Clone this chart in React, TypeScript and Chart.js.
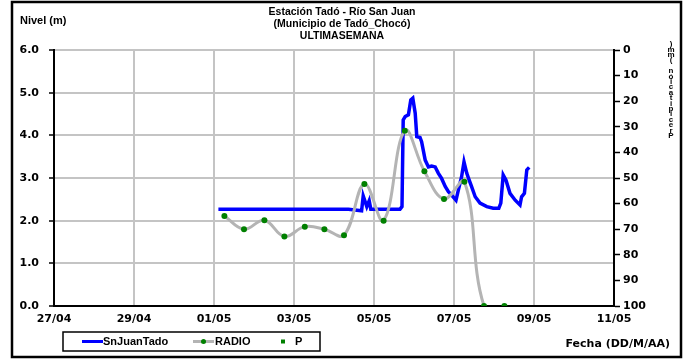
import React, { useEffect, useRef } from 'react';
import { Chart, registerables } from 'chart.js';

Chart.register(...registerables);

// x values are days since 27/04 00:00
const xTickLabels = ['27/04', '29/04', '01/05', '03/05', '05/05', '07/05', '09/05', '11/05'];

const snJuanDays = [4.11, 7.36, 7.69, 7.73, 7.82, 7.88, 7.92, 7.97, 8.65, 8.70, 8.73, 8.78, 8.86, 8.92, 8.97, 9.03, 9.07, 9.15, 9.19, 9.28, 9.36, 9.44, 9.53, 9.61, 9.69, 9.78, 9.86, 9.94, 10.05, 10.11, 10.19, 10.25, 10.32, 10.38, 10.44, 10.53, 10.65, 10.82, 10.98, 11.12, 11.17, 11.23, 11.30, 11.40, 11.53, 11.65, 11.69, 11.76, 11.82, 11.88];
const snJuanLevels = [2.27, 2.27, 2.23, 2.58, 2.33, 2.47, 2.27, 2.27, 2.27, 2.33, 4.36, 4.44, 4.48, 4.83, 4.87, 4.52, 3.97, 3.95, 3.85, 3.42, 3.26, 3.28, 3.26, 3.11, 2.99, 2.80, 2.68, 2.60, 2.48, 2.72, 3.03, 3.38, 3.11, 2.95, 2.80, 2.56, 2.41, 2.33, 2.29, 2.29, 2.41, 3.07, 2.95, 2.64, 2.48, 2.37, 2.56, 2.64, 3.19, 3.25];

const radioDays = [4.26, 4.75, 5.26, 5.76, 6.27, 6.76, 7.25, 7.76, 8.24, 8.77, 9.26, 9.75, 10.26, 10.75, 11.26];
const radioLevels = [2.11, 1.80, 2.01, 1.63, 1.86, 1.80, 1.66, 2.86, 2.00, 4.11, 3.16, 2.51, 2.91, 0, 0];

const pDays: number[] = [];
const pValues: number[] = [];

const titleLines = ['Estación Tadó - Río San Juan', '(Municipio de Tadó_Chocó)', 'ULTIMASEMANA'];
const rightTitle = 'Precipitación (mm)';

const TICK_FONT = { family: '"DejaVu Sans", sans-serif', size: 11, weight: 'bold' as const };

const decorPlugin = {
  id: 'decor',
  afterDraw(chart: any) {
    const ctx = chart.ctx as CanvasRenderingContext2D;
    const area = chart.chartArea;
    ctx.save();
    // outer frame
    ctx.strokeStyle = '#000';
    ctx.lineWidth = 2.5;
    ctx.strokeRect(12, 2, 669, 355);

    // titles
    ctx.fillStyle = '#000';
    ctx.textAlign = 'center';
    ctx.textBaseline = 'middle';
    ctx.font = 'bold 10.5px "Liberation Sans", Arial, sans-serif';
    const cx = (area.left + area.right) / 2 + 8;
    titleLines.forEach((t, i) => ctx.fillText(t, cx, 12 + i * 12));

    ctx.textAlign = 'left';
    ctx.font = 'bold 11px "Liberation Sans", Arial, sans-serif';
    ctx.fillText('Nivel (m)', 20, 21);

    // x-axis caption
    ctx.font = 'bold 11px "DejaVu Sans", sans-serif';
    ctx.textAlign = 'right';
    ctx.fillText('Fecha (DD/M/AA)', 670, 344);

    // clipped right-axis title (stacked glyphs)
    ctx.font = 'bold 8px "Liberation Sans", Arial, sans-serif';
    ctx.textAlign = 'center';
    const chars = rightTitle.split('').reverse();
    chars.forEach((c, i) => ctx.fillText(c, 671, 44 + i * 5.4));

    // legend box
    ctx.lineWidth = 1.5;
    ctx.strokeRect(63, 332, 257, 19);
    const ly = 341.5;
    ctx.lineCap = 'butt';
    ctx.strokeStyle = '#0000ff';
    ctx.lineWidth = 3;
    ctx.beginPath(); ctx.moveTo(82, ly); ctx.lineTo(103, ly); ctx.stroke();
    ctx.strokeStyle = '#b4b4b4';
    ctx.beginPath(); ctx.moveTo(193, ly); ctx.lineTo(214, ly); ctx.stroke();
    ctx.fillStyle = '#008000';
    ctx.beginPath(); ctx.arc(203.5, ly, 2.5, 0, Math.PI * 2); ctx.fill();
    ctx.fillRect(281, ly - 2, 4, 4);
    ctx.fillStyle = '#000';
    ctx.textAlign = 'left';
    ctx.font = 'bold 11px "Liberation Sans", Arial, sans-serif';
    ctx.fillText('SnJuanTado', 103, ly);
    ctx.fillText('RADIO', 215, ly);
    ctx.fillText('P', 295, ly);
    ctx.restore();
  },
};

export default function App() {
  const ref = useRef<HTMLCanvasElement>(null);
  useEffect(() => {
    document.body.style.margin = '0';
    const canvas = ref.current!;
    const chart = new Chart(canvas, {
      type: 'line',
      data: {
        datasets: [
          {
            label: 'RADIO',
            data: radioDays.map((d, i) => ({ x: d, y: radioLevels[i] })),
            borderColor: '#b4b4b4',
            borderWidth: 3,
            tension: 0.4,
            pointRadius: 3,
            pointBorderWidth: 0,
            pointBackgroundColor: '#008000',
            yAxisID: 'y',
            order: 0,
            segment: {
              borderColor: (c: any) => (c.p0DataIndex >= 13 ? 'rgba(0,0,0,0)' : undefined),
            },
          },
          {
            label: 'SnJuanTado',
            data: snJuanDays.map((d, i) => ({ x: d, y: snJuanLevels[i] })),
            borderColor: '#0000ff',
            borderWidth: 3.5,
            tension: 0,
            pointRadius: 0,
            yAxisID: 'y',
            order: 1,
          },
          {
            label: 'P',
            data: pDays.map((d, i) => ({ x: d, y: pValues[i] })),
            showLine: false,
            pointStyle: 'rect',
            pointRadius: 2,
            pointBackgroundColor: '#008000',
            yAxisID: 'y2',
            order: 2,
          },
        ],
      },
      options: {
        animation: false,
        responsive: false,
        maintainAspectRatio: false,
        layout: { padding: { top: 50, left: 0, right: 0, bottom: 0 } },
        plugins: { legend: { display: false }, tooltip: { enabled: false }, title: { display: false } },
        scales: {
          x: {
            type: 'linear',
            min: 0,
            max: 14,
            afterFit: (s: any) => { s.height = 54; },
            ticks: {
              stepSize: 2,
              padding: 7,
              color: '#000',
              font: TICK_FONT,
              maxRotation: 0,
              callback: (v: any) => xTickLabels[Math.round(Number(v) / 2)] ?? '',
            },
            grid: {
              drawTicks: false,
              lineWidth: 2,
              color: (c: any) => (c.tick && (c.tick.value === 0 || c.tick.value === 14) ? 'rgba(0,0,0,0)' : '#c4c4c4'),
            },
            border: { display: true, color: '#000', width: 2 },
          },
          y: {
            position: 'left',
            min: 0,
            max: 6,
            afterFit: (s: any) => { s.width = 54; },
            ticks: {
              stepSize: 1,
              padding: 10,
              color: '#000',
              font: TICK_FONT,
              callback: (v: any) => Number(v).toFixed(1),
            },
            grid: {
              lineWidth: 2,
              tickLength: 5,
              tickColor: '#000',
              tickWidth: 1.5,
              color: (c: any) => (c.tick && c.tick.value === 0 ? 'rgba(0,0,0,0)' : '#c4c4c4'),
            },
            border: { display: true, color: '#000', width: 2 },
          },
          y2: {
            position: 'right',
            min: 0,
            max: 100,
            reverse: true,
            afterFit: (s: any) => { s.width = 75; },
            ticks: {
              stepSize: 10,
              padding: 3,
              color: '#000',
              font: TICK_FONT,
            },
            grid: {
              drawOnChartArea: false,
              tickLength: 6,
              tickColor: '#000',
              tickWidth: 1.5,
            },
            border: { display: true, color: '#000', width: 2 },
          },
        },
      },
      plugins: [decorPlugin],
    } as any);
    return () => chart.destroy();
  }, []);
  return (
    <div style={{ width: 689, height: 360 }}>
      <canvas ref={ref} width={689} height={360} style={{ display: 'block' }} />
    </div>
  );
}
